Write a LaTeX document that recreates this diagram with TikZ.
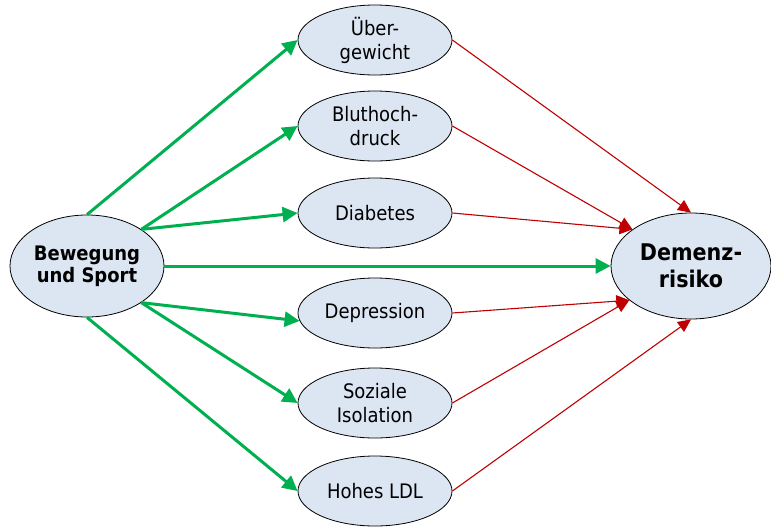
\documentclass[tikz,border=0pt]{standalone}
\usepackage{fontspec}
\setmainfont{DejaVu Sans Condensed}
\usetikzlibrary{shapes,arrows.meta}
\definecolor{fillblue}{RGB}{220,230,242}
\definecolor{posgreen}{RGB}{0,176,80}
\definecolor{negred}{RGB}{192,0,0}
\tikzstyle{factor}=[ellipse,
                    draw,
                    fill=fillblue,
                    line width=0.8pt,
                    inner sep=0pt,
                    minimum width=154pt,
                    minimum height=70pt,
                    align=center,
                    font=\fontsize{20}{24}\selectfont]
\tikzstyle{cause}=[factor,
                   minimum width=154pt,
                   minimum height=102pt,
                   font=\fontsize{20}{22}\selectfont\bfseries]
\tikzstyle{risk}=[factor,
                  minimum width=160pt,
                  minimum height=106pt,
                  font=\fontsize{23}{27}\selectfont\bfseries]
\tikzstyle{lowers}=[-{Triangle[length=15pt,width=15pt]},posgreen,line width=3pt]
\tikzstyle{raises}=[-{Triangle[length=13pt,width=12pt]},negred,line width=1.1pt]

\begin{document}
\begin{tikzpicture}[x=1pt,y=-1pt]
      \useasboundingbox (0,0) rectangle (771,528);

      \node[cause] (sport) at (87,266) {Bewegung\\und Sport};
      \node[risk] (demenz) at (691,266) {Demenz-\\risiko};

      \node[factor] (gewicht)    at (375,40)  {Über-\\gewicht};
      \node[factor] (blutdruck)  at (375,126) {Bluthoch-\\druck};
      \node[factor] (diabetes)   at (375,213) {Diabetes};
      \node[factor] (depression) at (375,313) {Depression};
      \node[factor] (isolation)  at (375,403) {Soziale\\Isolation};
      \node[factor] (ldl)        at (375,491) {Hohes LDL};

      \draw[lowers] (sport.north) -- (gewicht.west);
      \draw[lowers] (sport.34) -- (blutdruck.west);
      \draw[lowers] (sport.34) -- (diabetes.west);
      \draw[lowers] (sport.east) -- (demenz.west);
      \draw[lowers] (sport.-34) -- (depression.186);
      \draw[lowers] (sport.-34) -- (isolation.west);
      \draw[lowers] (sport.south) -- (ldl.west);

      \draw[raises] (gewicht.east) -- (demenz.north);
      \draw[raises] (blutdruck.east) -- (demenz.148);
      \draw[raises] (diabetes.east) -- (demenz.148);
      \draw[raises] (depression.east) -- (demenz.209);
      \draw[raises] (isolation.east) -- (demenz.209);
      \draw[raises] (ldl.east) -- (demenz.south);
    \end{tikzpicture}
\end{document}
